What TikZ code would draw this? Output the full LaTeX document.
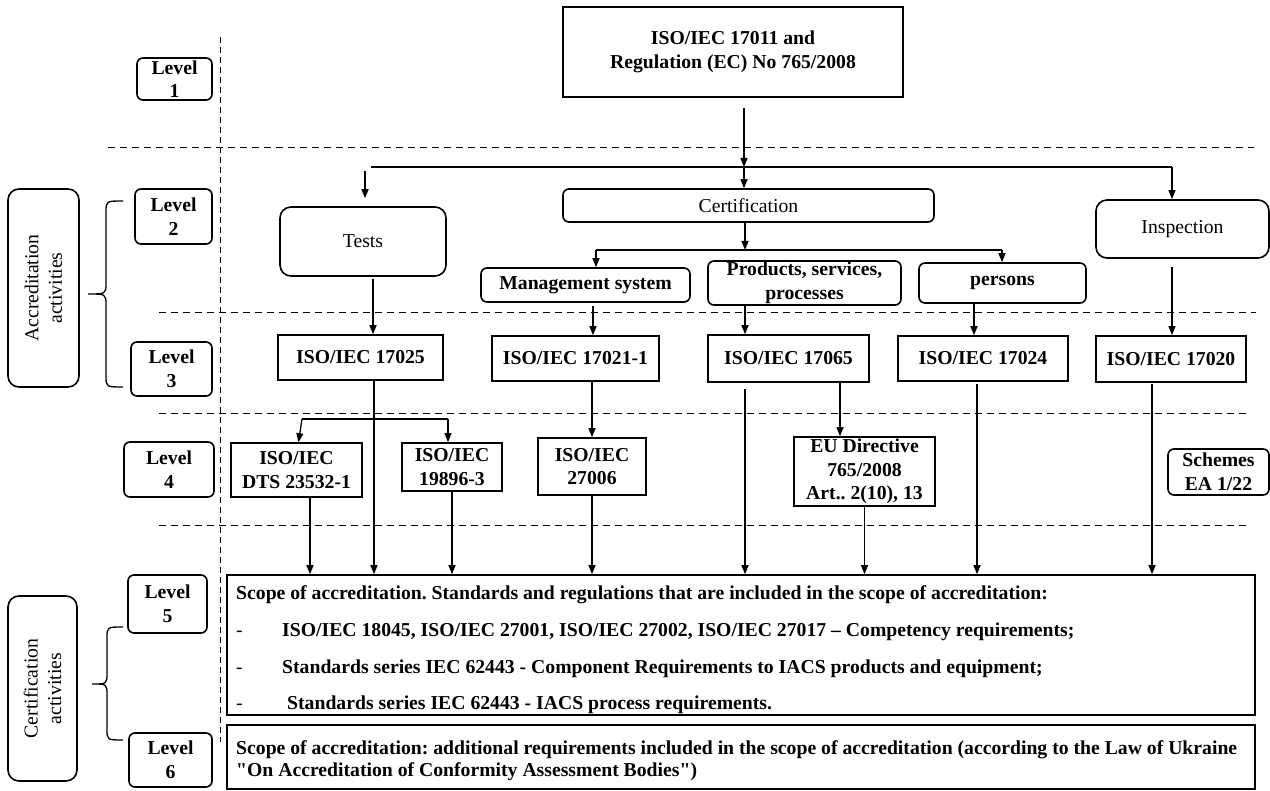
\documentclass[tikz,border=0pt]{standalone}
\usepackage{fontspec}
\setmainfont{Liberation Serif}[Ligatures=TeXOff]
\usetikzlibrary{arrows.meta,calc}
\begin{document}
\frenchspacing
\fontsize{19.7}{23.5}\selectfont
\begin{tikzpicture}[x=1pt,y=-1pt,
  box/.style={draw, line width=1.6pt, inner sep=0pt, align=center},
  rbox/.style={box, rounded corners=6pt},
  bigr/.style={box, rounded corners=11pt},
  arr/.style={-{Triangle[length=9pt,width=7pt]}, line width=1.3pt},
  plain/.style={line width=1.3pt},
  sepline/.style={line width=1pt, dash pattern=on 7pt off 5pt},
  vsep/.style={line width=1pt, dash pattern=on 6pt off 4pt},
  txt/.style={inner sep=0pt, anchor=base west},
  btxt/.style={txt, font=\bfseries},
  brace/.style={line width=1.3pt}]
\useasboundingbox (0,0) rectangle (1270,791);

% separators
\draw[vsep] (220,37) -- (220,742);
\draw[sepline] (108,148) -- (1254,148);
\draw[sepline] (159,313) -- (1256,313);
\draw[sepline] (159,414) -- (1251,414);
\draw[sepline] (159,526) -- (1250,526);

% left column
\node[bigr, rotate=90, minimum width=198pt, minimum height=71pt] (acc) at (43.5,288) {Accreditation\\activities};
\node[bigr, rotate=90, minimum width=185pt, minimum height=69pt] (cert) at (42.5,688.5) {Certification\\activities};
\draw[brace] (123,201) .. controls (106,201) .. (106,212) -- (106,283) .. controls (106,294) .. (88,294)
  .. controls (106,294) .. (106,305) -- (106,376) .. controls (106,387) .. (123,387);
\draw[brace] (123,627) .. controls (107,627) .. (107,638) -- (107,673) .. controls (107,684) .. (92,684)
  .. controls (107,684) .. (107,695) -- (107,729) .. controls (107,740) .. (123,740);

% level boxes
\node[rbox, font=\bfseries, minimum width=75pt, minimum height=42pt] (l1) at (174.5,79) {Level\\1};
\node[rbox, font=\bfseries, minimum width=77pt, minimum height=55pt] (l2) at (173.5,216.5) {Level\\2};
\node[rbox, font=\bfseries, minimum width=81pt, minimum height=54pt] (l3) at (171.5,369) {Level\\3};
\node[rbox, font=\bfseries, minimum width=90pt, minimum height=55pt] (l4) at (169,469.5) {Level\\4};
\node[rbox, font=\bfseries, minimum width=79pt, minimum height=58pt] (l5) at (167.5,604) {Level\\5};
\node[rbox, font=\bfseries, minimum width=83pt, minimum height=54pt] (l6) at (170.5,760) {Level\\6};

% level 1
\node[box, font=\bfseries, minimum width=340pt, minimum height=90pt] (top) at (733,52) {ISO/IEC 17011 and\\Regulation (EC) No 765/2008};

% level 2
\node[bigr, minimum width=166pt, minimum height=69pt] (tests) at (363,241.5) {Tests};
\node[rbox, minimum width=371pt, minimum height=33pt] (certif) at (748.5,205.5) {Certification};
\node[bigr, minimum width=173pt, minimum height=58pt] (insp) at (1182.5,229) {Inspection};
\node[rbox, font=\bfseries, minimum width=209pt, minimum height=34pt] (mgmt) at (585.5,285) {Management system};
\node[rbox, font=\bfseries, minimum width=193pt, minimum height=44pt] (prod) at (804.5,283) {Products, services,\\processes};
\node[rbox, font=\bfseries, minimum width=167pt, minimum height=40pt] (pers) at (1002.5,283) {persons};

% level 3
\node[box, font=\bfseries, minimum width=165pt, minimum height=45pt] (i17025) at (360.5,357.5) {ISO/IEC 17025};
\node[box, font=\bfseries, minimum width=167pt, minimum height=45pt] (i17021) at (575.5,358.5) {ISO/IEC 17021-1};
\node[box, font=\bfseries, minimum width=161pt, minimum height=47pt] (i17065) at (788.5,358.5) {ISO/IEC 17065};
\node[box, font=\bfseries, minimum width=170pt, minimum height=45pt] (i17024) at (983,358.5) {ISO/IEC 17024};
\node[box, font=\bfseries, minimum width=150pt, minimum height=46pt] (i17020) at (1171,359) {ISO/IEC 17020};

% level 4
\node[box, font=\bfseries, minimum width=131pt, minimum height=54pt] (dts) at (296.5,470) {ISO/IEC\\DTS 23532-1};
\node[box, font=\bfseries, minimum width=100pt, minimum height=48pt] (n19896) at (452,467) {ISO/IEC\\19896-3};
\node[box, font=\bfseries, minimum width=108pt, minimum height=57pt] (n27006) at (592,466.5) {ISO/IEC\\27006};
\node[box, font=\bfseries, minimum width=141pt, minimum height=69pt] (eu) at (864.5,471.5) {EU Directive\\765/2008\\Art.. 2(10), 13};
\node[rbox, font=\bfseries, minimum width=101pt, minimum height=46pt] (schemes) at (1218.5,472) {Schemes\\EA 1/22};

% level 5 and 6
\node[box, minimum width=1028pt, minimum height=140pt] (scope) at (741,645) {};
\node[box, minimum width=1028pt, minimum height=64pt] (scope6) at (741,757) {};
\node[btxt] (s1) at (236,599) {Scope of accreditation. Standards and regulations that are included in the scope of accreditation:};
\node[txt] (d2) at (236,636) {-};
\node[btxt] (s2) at (282,636) {ISO/IEC 18045, ISO/IEC 27001, ISO/IEC 27002, ISO/IEC 27017 – Competency requirements;};
\node[txt] (d3) at (236,673) {-};
\node[btxt] (s3) at (282,673) {Standards series IEC 62443 - Component Requirements to IACS products and equipment;};
\node[txt] (d4) at (236,709) {-};
\node[btxt] (s4) at (287,709) {Standards series IEC 62443 - IACS process requirements.};
\node[btxt] (t1) at (236,754) {Scope of accreditation: additional requirements included in the scope of accreditation (according to the Law of Ukraine};
\node[btxt] (t2) at (236,776) {"On Accreditation of Conformity Assessment Bodies")};

% connectors level 1 -> 2
\coordinate (j1) at (744,167);
\coordinate (jl) at (371,167);
\coordinate (jr) at (1172,167);
\draw[arr] ($(top.south)+(11,10)$) -- (j1);
\draw[arr] (j1) -- (j1 |- certif.north);
\draw[plain] (jl) -- (jr);
\draw[arr] (jr) -- (jr |- insp.north);
\draw[arr] ($(tests.north)+(2,-35)$) -- ($(tests.north)+(2,-8)$);

% certification branch
\coordinate (cj) at (745,250);
\coordinate (cjl) at (596,250);
\coordinate (cjr) at (1002,250);
\draw[arr] (cj |- certif.south) -- (cj);
\draw[plain] (cjl) -- (cjr);
\draw[arr] (cjl) -- (cjl |- mgmt.north);
\draw[arr] (cjr) -- (cjr |- pers.north);

% level 2 -> 3
\coordinate (a6) at ($(tests.south)+(10,2)$);
\draw[arr] (a6) -- (a6 |- i17025.north);
\coordinate (a7) at ($(mgmt.south)+(7.5,3)$);
\draw[arr] (a7) -- (a7 |- i17021.north);
\coordinate (a8) at ($(prod.south)+(-59.5,0)$);
\draw[arr] (a8) -- (a8 |- i17065.north);
\coordinate (a9) at ($(pers.south)+(-28.5,0)$);
\draw[arr] (a9) -- (a9 |- i17024.north);
\coordinate (a10) at ($(insp.south)+(-10.5,8)$);
\draw[arr] (a10) -- (a10 |- i17020.north);

% level 3 -> 4/5
\coordinate (b1) at ($(i17025.south)+(13.5,0)$);
\draw[arr] (b1) -- (b1 |- scope.north);
\coordinate (br1) at (302,419);
\coordinate (br2) at (448,419);
\draw[plain] (br1) -- (br2);
\draw[arr] (br1) -- ($(dts.north)+(2,0)$);
\draw[arr] (br2) -- (br2 |- n19896.north);
\coordinate (c1) at ($(i17021.south)+(16.5,0)$);
\draw[arr] (c1) -- (c1 |- n27006.north);
\coordinate (c2) at ($(i17065.south)+(-43.5,6)$);
\draw[arr] (c2) -- (c2 |- scope.north);
\coordinate (c3) at ($(i17065.south)+(51.5,0)$);
\draw[arr] (c3) -- (c3 |- eu.north);
\coordinate (c4) at ($(i17024.south)+(-6,2)$);
\draw[arr] (c4) -- (c4 |- scope.north);
\coordinate (c5) at ($(i17020.south)+(-19,1)$);
\draw[arr] (c5) -- (c5 |- scope.north);

% level 4 -> 5
\coordinate (e1) at ($(dts.south)+(13.5,0)$);
\draw[arr] (e1) -- (e1 |- scope.north);
\draw[arr] (n19896.south) -- (n19896.south |- scope.north);
\draw[arr] (n27006.south) -- (n27006.south |- scope.north);
\draw[arr] (eu.south) -- (eu.south |- scope.north);
\end{tikzpicture}
\end{document}
